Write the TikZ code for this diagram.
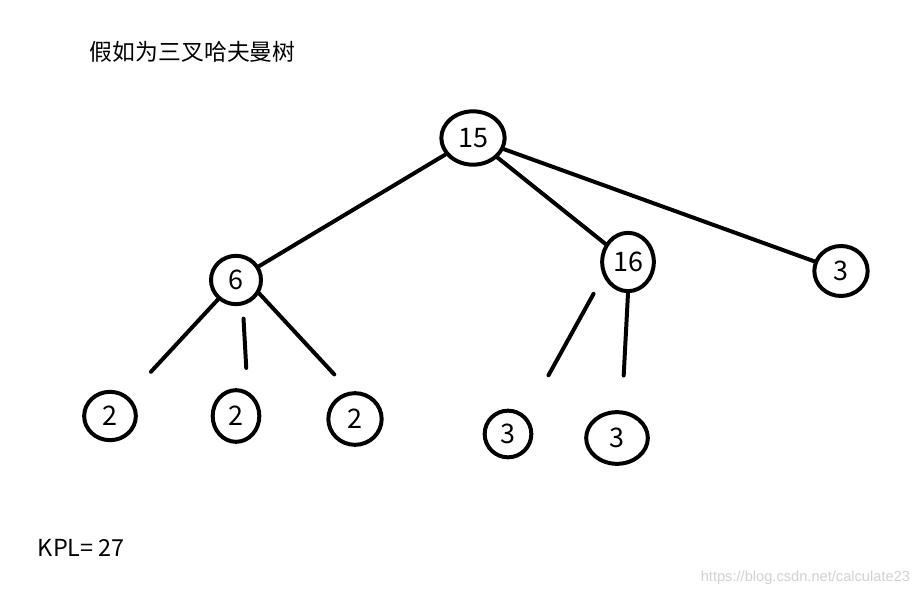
\documentclass[tikz,border=0pt]{standalone}
\usepackage{fontspec}
\setmainfont{Noto Sans CJK SC}
\newfontfamily\wmfont{Liberation Sans}
\usepackage{tikz}
\usetikzlibrary{positioning,shapes.geometric}

\begin{document}
\begin{tikzpicture}[on grid,line width=3.4pt,
  nd/.style={ellipse,draw,inner sep=0pt,font=\fontsize{23}{23}\selectfont},
  ed/.style={line cap=round}]
\useasboundingbox (0,0) rectangle (27.69,-17.88);
% title
\node[anchor=west,inner sep=0pt,font=\fontsize{19.5}{20}\selectfont] (title) at (2.64,-1.56) {假如为三叉哈夫曼树};
% tree
\node[nd,minimum width=1.9cm,minimum height=1.6cm] (r) at (14.19,-4.14) {15};
\node[nd,minimum width=1.5cm,minimum height=1.45cm,below left=4.26cm and 7.11cm of r] (a) {6};
\node[nd,minimum width=1.55cm,minimum height=1.75cm,below right=3.72cm and 4.65cm of r] (b) {16};
\node[nd,minimum width=1.6cm,minimum height=1.5cm,below right=3.99cm and 11.04cm of r] (c) {3};
\node[nd,minimum width=1.55cm,minimum height=1.45cm,below left=4.08cm and 3.78cm of a] (a1) {2};
\node[nd,minimum width=1.4cm,minimum height=1.55cm,below=4.08cm of a] (a2) {2};
\node[nd,minimum width=1.6cm,minimum height=1.55cm,below right=4.17cm and 3.57cm of a] (a3) {2};
\node[nd,minimum width=1.4cm,minimum height=1.4cm,below left=5.16cm and 3.6cm of b] (b1) {3};
\node[nd,minimum width=1.85cm,minimum height=1.55cm,below left=5.28cm and 0.33cm of b] (b2) {3};
% edges
\draw[ed] (r) -- (a);
\draw[ed] (r) -- (b);
\draw[ed] (r) -- (c);
\draw[ed,shorten >=1.0cm] (a) -- (a1);
\draw[ed,shorten <=0.4cm,shorten >=0.7cm] (a.-75) -- (a2.65);
\draw[ed,shorten >=0.7cm] (a.-30) -- (a3.100);
\draw[ed,shorten <=0.6cm,shorten >=1.4cm] (b.-150) -- (b1.45);
\draw[ed,shorten >=1.05cm] (b.-90) -- (b2.80);
% result
\node[anchor=west,inner sep=0pt,font=\fontsize{20}{20}\selectfont] (kpl) at (1.08,-16.44) {KPL= 27};
\node[anchor=east,inner sep=0pt,text=black!18,font=\wmfont\fontsize{12.5}{13}\selectfont] (wm) at (27.36,-17.34) {https://blog.csdn.net/calculate23};
\end{tikzpicture}
\end{document}
